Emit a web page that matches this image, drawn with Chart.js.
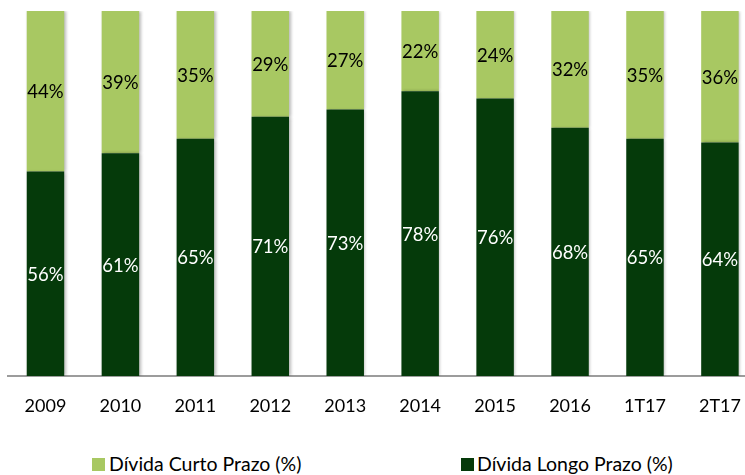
<!DOCTYPE html>
<html>
<head>
<meta charset="utf-8">
<script src="https://cdn.jsdelivr.net/npm/chart.js@4/dist/chart.umd.min.js"></script>
<style>
  html,body{margin:0;padding:0;background:#fff;overflow:hidden;width:745px;height:475px;}
  #wrap{position:absolute;left:0;top:0;width:760px;height:430px;}
  .legtxt{position:absolute;top:454px;font-family:Lato,"Noto Sans",sans-serif;font-size:19.5px;color:#000;line-height:20px;white-space:nowrap;}
  .legbox{position:absolute;top:458px;width:13px;height:13px;}
</style>
</head>
<body>
<div id="wrap"><canvas id="c"></canvas></div>
<div class="legbox" style="left:92px;background:#A8C862"></div>
<div class="legtxt" style="left:109px;">Dívida Curto Prazo (%)</div>
<div class="legbox" style="left:461px;background:#053A0A"></div>
<div class="legtxt" style="left:477px;">Dívida Longo Prazo (%)</div>
<script>
const categories = ["2009","2010","2011","2012","2013","2014","2015","2016","1T17","2T17"];
const longoPrazo = [56,61,65,71,73,78,76,68,65,64];
const curtoPrazo = [44,39,35,29,27,22,24,32,35,36];
const seriesNames = ["Dívida Longo Prazo (%)","Dívida Curto Prazo (%)"];

const FONT = 'Lato, "Noto Sans", sans-serif';

const shadowPlugin = {
  id:'shadow',
  beforeDatasetsDraw(chart){
    const ctx = chart.ctx;
    ctx.save();
    ctx.shadowColor = 'rgba(0,0,0,0.28)';
    ctx.shadowBlur = 3;
    ctx.shadowOffsetX = 1.5;
    ctx.shadowOffsetY = 0;
  },
  afterDatasetsDraw(chart){
    chart.ctx.restore();
  }
};

const labelPlugin = {
  id:'segLabels',
  afterDatasetsDraw(chart){
    const ctx = chart.ctx;
    ctx.save();
    ctx.font = '18.5px ' + FONT;
    ctx.textAlign = 'center';
    ctx.textBaseline = 'middle';
    chart.data.datasets.forEach((ds, di) => {
      const meta = chart.getDatasetMeta(di);
      meta.data.forEach((bar, i) => {
        const top = Math.min(bar.y, bar.base), bot = Math.max(bar.y, bar.base);
        ctx.fillStyle = ds.labelColor;
        ctx.fillText(ds.data[i] + '%', bar.x, (top + bot) / 2 + 1);
      });
    });
    ctx.restore();
  }
};

new Chart(document.getElementById('c'), {
  type:'bar',
  data:{
    labels: categories,
    datasets:[
      {label: seriesNames[0], data: longoPrazo, backgroundColor:'#053A0A', labelColor:'#ffffff', categoryPercentage:1, barPercentage:0.5},
      {label: seriesNames[1], data: curtoPrazo, backgroundColor:'#A8C862', labelColor:'#000000', categoryPercentage:1, barPercentage:0.5}
    ]
  },
  options:{
    responsive:true,
    maintainAspectRatio:false,
    animation:false,
    devicePixelRatio:1,
    layout:{padding:{left:8,right:2,top:11,bottom:0}},
    plugins:{legend:{display:false}, tooltip:{enabled:false}},
    scales:{
      x:{
        stacked:true,
        grid:{display:false, drawTicks:false},
        border:{display:true, color:'#9c9c9c', width:2},
        ticks:{color:'#000', font:{family:FONT, size:18}, padding:19},
        afterFit(scale){ scale.height = 54; }
      },
      y:{
        stacked:true, display:false, min:0, max:100
      }
    }
  },
  plugins:[shadowPlugin, labelPlugin]
});
</script>
</body>
</html>
